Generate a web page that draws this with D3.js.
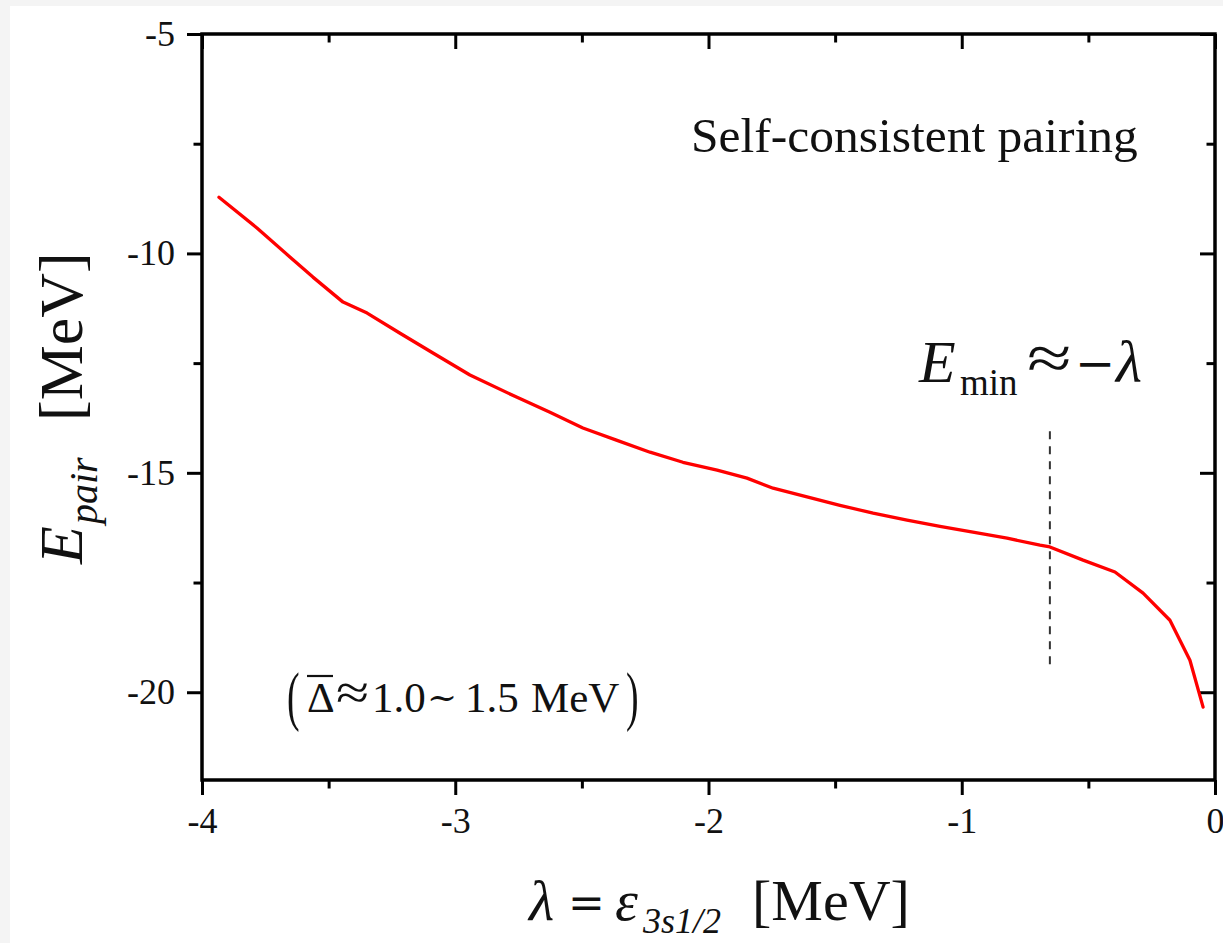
<!DOCTYPE html>
<html>
<head>
<meta charset="utf-8">
<script src="https://cdn.jsdelivr.net/npm/d3@7"></script>
<style>
  html, body { margin: 0; padding: 0; background: #f4f4f4; }
  svg { display: block; }
  text { font-family: "Liberation Serif", "Times New Roman", serif; fill: #111; }
  text.sym { font-family: "DejaVu Serif", serif; }
</style>
</head>
<body>
<svg id="chart" width="1223" height="943"></svg>
<script>
// Pairing energy versus the 3s1/2 single-particle energy (Fermi level)
const lambdaVals = [-3.933, -3.783, -3.653, -3.562, -3.443, -3.348, -3.218, -3.088, -2.942,
  -2.756, -2.626, -2.496, -2.361, -2.231, -2.101, -1.966, -1.848, -1.745, -1.611, -1.481,
  -1.350, -1.216, -1.086, -0.956, -0.821, -0.691, -0.652, -0.521, -0.395, -0.284, -0.178,
  -0.099, -0.047];
const ePair = [-8.72, -9.42, -10.08, -10.54, -11.11, -11.36, -11.82, -12.27, -12.77,
  -13.28, -13.62, -13.98, -14.26, -14.53, -14.76, -14.94, -15.12, -15.35, -15.55, -15.74,
  -15.92, -16.08, -16.22, -16.35, -16.49, -16.65, -16.69, -16.99, -17.26, -17.74, -18.36,
  -19.27, -20.34];

// Axis ticks
const xMajor = [-4, -3, -2, -1, 0];
const xMinor = [-3.5, -2.5, -1.5, -0.5];
const yMajor = [-5, -10, -15, -20];
const yMinor = [-7.5, -12.5, -17.5];

// Position of the E_min ≈ −λ marker and its vertical extent
const markerLambda = [-0.652];
const markerRange = [-14.05, -19.4];

const svg = d3.select("#chart");
const W = 1223, H = 943;
const plotL = 202, plotR = 1215, plotT = 34, plotB = 780;

// page background: white sheet with a thin grey margin at top/left
svg.append("rect").attr("x", 10).attr("y", 6).attr("width", W - 10).attr("height", H - 6).attr("fill", "#ffffff");

const x = d3.scaleLinear().domain([-4, 0]).range([plotL, plotR]);
const y = d3.scaleLinear().domain([-22, -5]).range([plotB, plotT]);

const fmt = d => String(d);
const MAJ = 15, MIN = 8.5;

function styleAxis(g) {
  g.select(".domain").remove();
  g.selectAll(".tick line").attr("stroke", "#000").attr("stroke-width", 3);
  g.selectAll("text").style("font-family", "'Liberation Serif', 'Times New Roman', serif")
    .style("font-size", "36px").attr("fill", "#111");
}

// bottom axis (outward ticks with labels)
const gB = svg.append("g").attr("transform", `translate(0,${plotB})`)
  .call(d3.axisBottom(x).tickValues(xMajor).tickSize(MAJ).tickFormat(fmt));
styleAxis(gB);
gB.selectAll("text").attr("y", 53).attr("dy", null);
svg.append("g").attr("transform", `translate(0,${plotB})`)
  .call(d3.axisBottom(x).tickValues(xMinor).tickSize(MIN).tickFormat(""))
  .call(styleAxis);

// top axis (inward ticks)
svg.append("g").attr("transform", `translate(0,${plotT})`)
  .call(d3.axisTop(x).tickValues(xMajor).tickSize(-MAJ).tickFormat(""))
  .call(styleAxis);
svg.append("g").attr("transform", `translate(0,${plotT})`)
  .call(d3.axisTop(x).tickValues(xMinor).tickSize(-MIN).tickFormat(""))
  .call(styleAxis);

// left axis (outward ticks with labels)
const gL = svg.append("g").attr("transform", `translate(${plotL},0)`)
  .call(d3.axisLeft(y).tickValues(yMajor).tickSize(MAJ).tickFormat(fmt));
styleAxis(gL);
gL.selectAll("text").attr("x", -27).attr("dy", "0.32em");
svg.append("g").attr("transform", `translate(${plotL},0)`)
  .call(d3.axisLeft(y).tickValues(yMinor).tickSize(MIN).tickFormat(""))
  .call(styleAxis);

// right axis (inward ticks)
svg.append("g").attr("transform", `translate(${plotR},0)`)
  .call(d3.axisRight(y).tickValues(yMajor).tickSize(-MAJ).tickFormat(""))
  .call(styleAxis);
svg.append("g").attr("transform", `translate(${plotR},0)`)
  .call(d3.axisRight(y).tickValues(yMinor).tickSize(-MIN).tickFormat(""))
  .call(styleAxis);

// plot frame
svg.append("rect")
  .attr("x", x(-4)).attr("y", y(-5))
  .attr("width", x(0) - x(-4)).attr("height", y(-22) - y(-5))
  .attr("fill", "none").attr("stroke", "#000").attr("stroke-width", 3.5);

// pairing energy curve
const pts = lambdaVals.map((l, i) => [l, ePair[i]]);
svg.append("path")
  .datum(pts)
  .attr("d", d3.line().x(d => x(d[0])).y(d => y(d[1])))
  .attr("fill", "none")
  .attr("stroke", "#ff0000")
  .attr("stroke-width", 3.3)
  .attr("stroke-linejoin", "round")
  .attr("stroke-linecap", "round");

// dashed marker where E_min ≈ −λ
svg.selectAll("line.marker").data(markerLambda).join("line")
  .attr("class", "marker")
  .attr("x1", d => x(d)).attr("x2", d => x(d))
  .attr("y1", y(markerRange[0])).attr("y2", y(markerRange[1]))
  .attr("stroke", "#333").attr("stroke-width", 2).attr("stroke-dasharray", "8,7");

// annotation: Self-consistent pairing
svg.append("text").attr("x", 691).attr("y", 152)
  .style("font-size", "49.5px").text("Self-consistent pairing");

// annotation: E_min ≈ −λ
const em = svg.append("g");
em.append("text").attr("x", 919).attr("y", 382).style("font-size", "60px").style("font-style", "italic").text("E");
em.append("text").attr("x", 960).attr("y", 395).style("font-size", "37px").text("min");
em.append("text").attr("transform", "translate(1027,379) scale(1.4,1.08)").style("font-size", "58px").text("≈");
em.append("text").attr("class", "sym").attr("x", 1075).attr("y", 380).style("font-size", "48px").text("−");
em.append("text").attr("x", 1116).attr("y", 382).style("font-size", "60px").style("font-style", "italic").text("λ");

// annotation: (Δ̄ ≈ 1.0 ~ 1.5 MeV)
const gap = svg.append("g");
gap.append("text").attr("transform", "translate(287,718) scale(0.6,1.05)").style("font-size", "63px").text("(");
gap.append("text").attr("x", 307).attr("y", 712).style("font-size", "43px").text("Δ");
gap.append("line").attr("x1", 307).attr("x2", 333).attr("y1", 676).attr("y2", 676)
  .attr("stroke", "#111").attr("stroke-width", 2.2);
gap.append("text").attr("transform", "translate(336,709) scale(1.4,1.15)").style("font-size", "43px").text("≈");
gap.append("text").attr("x", 372).attr("y", 712).style("font-size", "43px").text("1.0");
gap.append("text").attr("class", "sym").attr("x", 427).attr("y", 709).style("font-size", "36px").text("~");
gap.append("text").attr("x", 465).attr("y", 712).style("font-size", "43px").text("1.5");
gap.append("text").attr("x", 531).attr("y", 712).style("font-size", "43px").text("MeV");
gap.append("text").attr("transform", "translate(626,718) scale(0.6,1.05)").style("font-size", "63px").text(")");

// x-axis title: λ = ε_3s1/2 [MeV]
const xt = svg.append("g");
xt.append("text").attr("x", 529).attr("y", 920).style("font-size", "58px").style("font-style", "italic").text("λ");
xt.append("text").attr("class", "sym").attr("x", 568).attr("y", 918).style("font-size", "44px").text("=");
xt.append("text").attr("x", 615).attr("y", 920).style("font-size", "58px").style("font-style", "italic").text("ε");
xt.append("text").attr("x", 643).attr("y", 933).style("font-size", "36px").style("font-style", "italic").text("3s1/2");
xt.append("text").attr("x", 752).attr("y", 920).style("font-size", "58px").text("[MeV]");

// y-axis title: E_pair [MeV], rotated
const yt = svg.append("g").attr("transform", "translate(82,564) rotate(-90)");
yt.append("text").attr("x", 0).attr("y", 0).style("font-size", "62px").style("font-style", "italic").text("E");
yt.append("text").attr("x", 40).attr("y", 15).style("font-size", "40px").style("font-style", "italic").text("pair");
yt.append("text").attr("x", 143).attr("y", 0).style("font-size", "62px").text("[MeV]");
</script>
</body>
</html>
